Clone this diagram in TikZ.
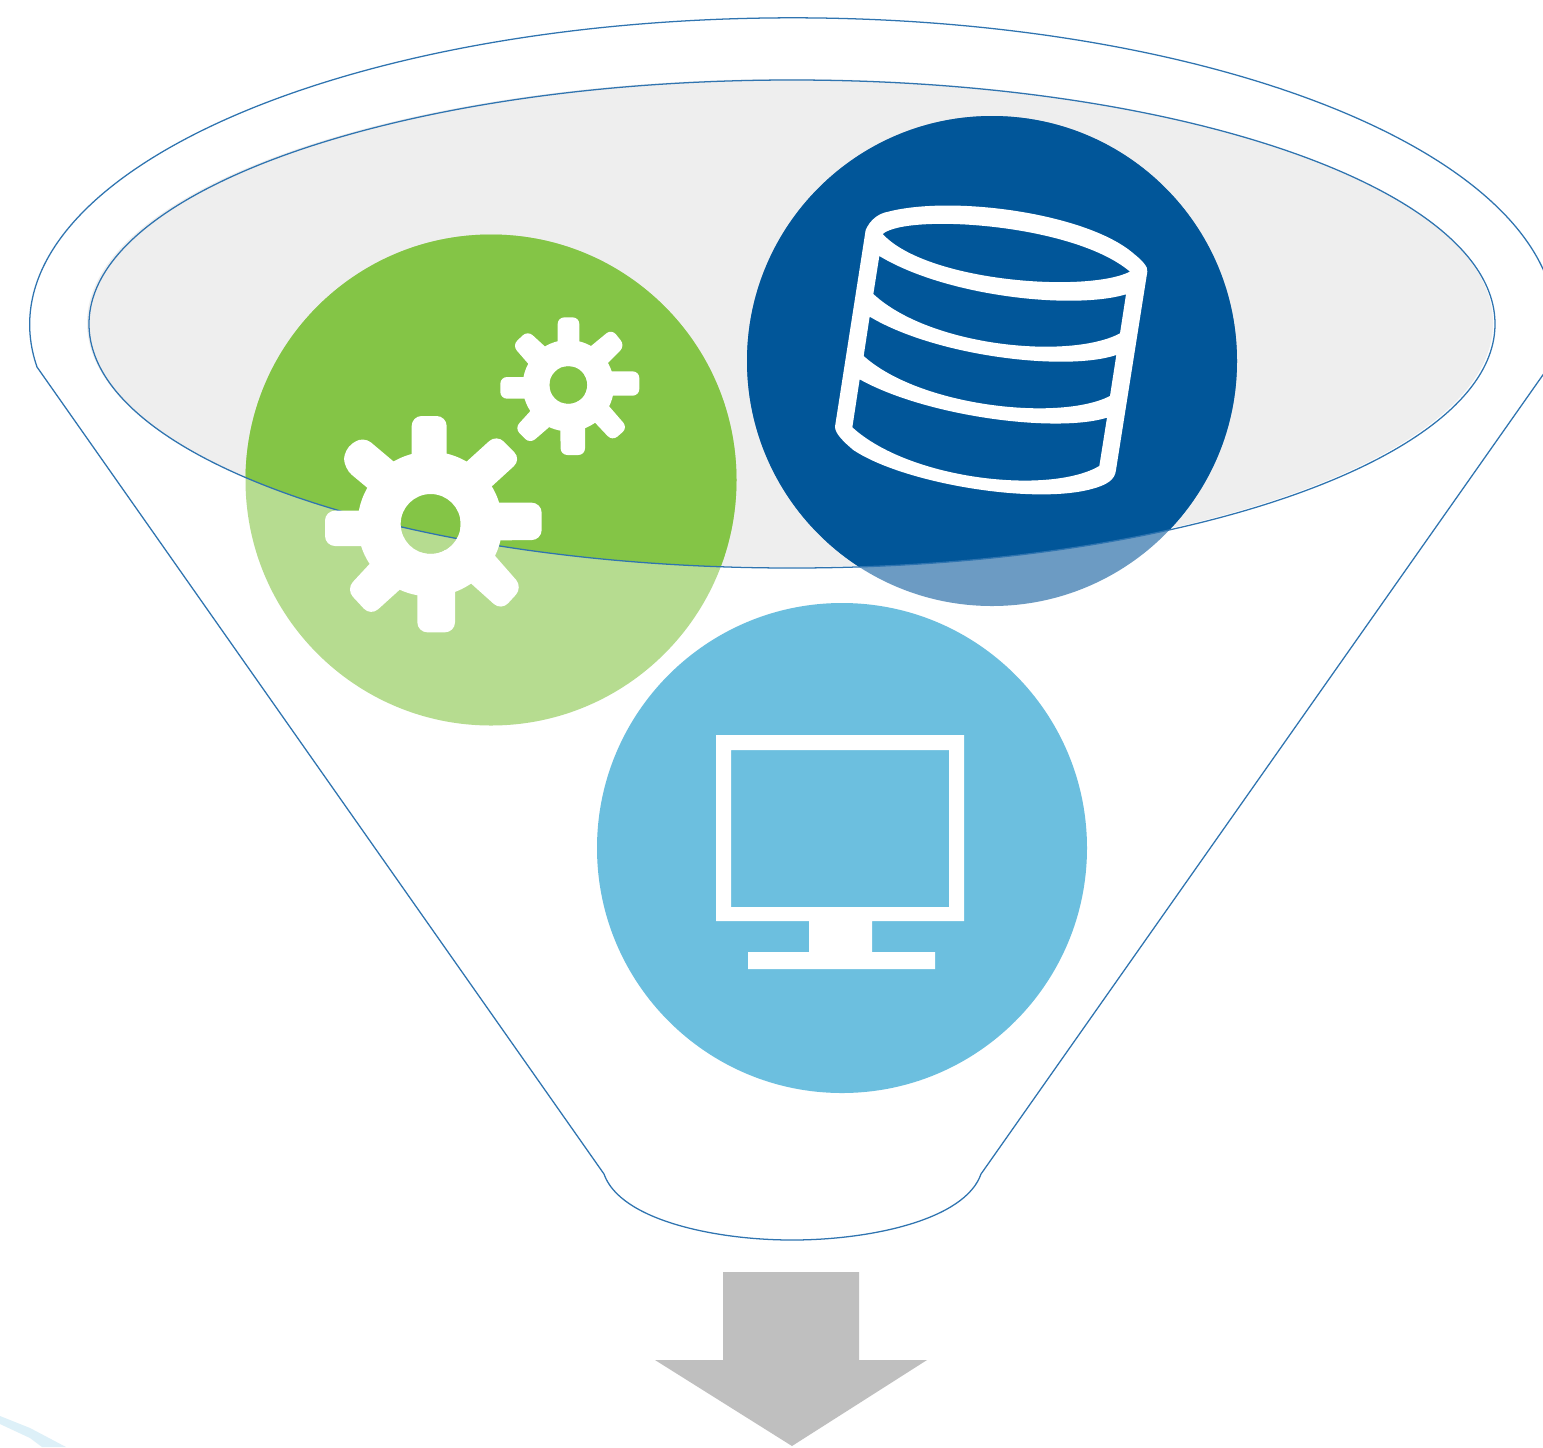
\documentclass[tikz,border=0pt]{standalone}
\definecolor{funnelline}{HTML}{2F74B0}
\definecolor{rimgrey}{HTML}{EEEEEE}
\definecolor{gearfull}{HTML}{84C546}
\definecolor{gearpale}{HTML}{B6DC90}
\definecolor{dbfull}{HTML}{015699}
\definecolor{dbpale}{HTML}{6C9BC3}
\definecolor{screencol}{HTML}{6CBFDF}
\definecolor{arrowgrey}{HTML}{BFBFBF}
\definecolor{wisp}{HTML}{DDF0F8}
\tikzset{
  outline/.style={draw=funnelline,line width=0.95pt},
  bigtooth/.style={fill=white,rounded corners=7.5pt},
  smalltooth/.style={fill=white,rounded corners=5pt},
  zoomA/.style={shift={(300,300)},scale=1/3},
  zoomB/.style={shift={(820,190)},scale=1/3},
}
\begin{document}
\begin{tikzpicture}[x=0.75pt,y=-0.75pt]
\useasboundingbox (0,0) rectangle (1543,1447);
\clip (0,0) rectangle (1543,1447);
\fill[white] (0,0) rectangle (1543,1447);
% faint wisp at lower left
\fill[wisp] (0,1416) -- (30,1428) -- (66,1447) -- (42,1447) -- (30,1438) -- (0,1424) -- cycle;
% funnel body
\draw[outline] (37,367) arc[start angle=172.1,end angle=367.9,x radius=763,y radius=307]
  -- (981,1174) .. controls (965,1220) and (870,1240) .. (792,1240)
  .. controls (715,1240) and (620,1220) .. (604,1174) -- cycle;
% rim
\fill[rimgrey] (790,323) ellipse[x radius=703,y radius=244];
% pale circle parts
\fill[gearpale] (491,480) circle[radius=245.5];
\fill[dbpale] (992,361) circle[radius=245];
% full colour inside the rim
\begin{scope}
  \clip (792,324) ellipse[x radius=703,y radius=244];
  \fill[gearfull] (491,480) circle[radius=245.5];
  \fill[dbfull] (992,361) circle[radius=245];
\end{scope}
\draw[outline] (792,324) ellipse[x radius=703,y radius=244];
% third circle
\fill[screencol] (842,848) circle[radius=245];
% gears: everything is painted outside the clipped-out holes
\begin{scope}[zoomA]
\begin{scope}[even odd rule]
  \clip (-900,-900) rectangle (3000,3000) (392,672) circle[radius=90];
  \fill[white] (390,672) circle[radius=217];
  \path[bigtooth] (335,560) -- (335,348) -- (440,348) -- (440,560) -- cycle;
  \path[bigtooth] (428,550) -- (590,403) -- (664,478) -- (500,628) -- cycle;
  \path[bigtooth] (480,608) -- (725,608) -- (725,720) -- (480,722) -- cycle;
  \path[bigtooth] (517,690) -- (668,862) -- (604,932) -- (440,785) -- cycle;
  \path[bigtooth] (465,750) -- (465,997) -- (352,997) -- (352,750) -- cycle;
  \path[bigtooth] (370,805) -- (212,948) -- (138,868) -- (282,713) -- cycle;
  \path[bigtooth] (300,738) -- (75,738) -- (75,632) -- (300,632) -- cycle;
  \path[bigtooth] (270,620) -- (132,505) -- (132,448) -- (190,408) -- (355,547) -- cycle;
\end{scope}
\begin{scope}[even odd rule]
  \clip (-900,-900) rectangle (3000,3000) (805,255) circle[radius=57];
  \fill[white] (805,257) circle[radius=137];
  \path[smalltooth] (773,200) -- (773,52) -- (838,52) -- (838,200) -- cycle;
  \path[smalltooth] (822,180) -- (935,87) -- (975,137) -- (870,244) -- cycle;
  \path[smalltooth] (850,214) -- (1018,214) -- (1018,287) -- (850,287) -- cycle;
  \path[smalltooth] (885,270) -- (983,383) -- (937,423) -- (840,320) -- cycle;
  \path[smalltooth] (855,300) -- (855,465) -- (782,465) -- (780,300) -- cycle;
  \path[smalltooth] (792,343) -- (690,431) -- (644,385) -- (742,277) -- cycle;
  \path[smalltooth] (750,296) -- (601,296) -- (601,231) -- (750,231) -- cycle;
  \path[smalltooth] (732,246) -- (637,136) -- (683,92) -- (790,190) -- cycle;
\end{scope}
\end{scope}
% database cylinder
\begin{scope}[zoomB]
\fill[white,even odd rule]
  (137,120) .. controls (150,90) and (175,70) .. (205,65)
  .. controls (400,15) and (800,70) .. (940,190)
  .. controls (965,210) and (985,230) .. (982,245)
  -- (888,840) .. controls (885,870) and (860,885) .. (815,897)
  .. controls (640,945) and (250,880) .. (100,780)
  .. controls (70,755) and (45,730) .. (45,710) -- cycle
  (188,132) .. controls (260,70) and (760,100) .. (930,245)
  .. controls (800,310) and (320,275) .. (188,132) -- cycle
  (178,198) -- (160,312) .. controls (330,470) and (750,510) .. (900,430)
  -- (918,313) .. controls (760,360) and (380,320) .. (178,198) -- cycle
  (149,380) -- (131,498) .. controls (300,650) and (720,695) .. (870,618)
  -- (889,495) .. controls (740,545) and (350,500) .. (149,380) -- cycle
  (119,568) -- (97,712) .. controls (270,870) and (690,915) .. (838,828)
  -- (861,683) .. controls (710,730) and (320,680) .. (119,568) -- cycle;
\end{scope}
% monitor
\fill[white,even odd rule]
  (716,735) -- (964,735) -- (964,921) -- (872,921) -- (872,952) -- (935,952) -- (935,969)
  -- (748,969) -- (748,952) -- (809,952) -- (809,921) -- (716,921) -- cycle
  (731,750) rectangle (949,907);
% output arrow
\fill[arrowgrey] (723,1272) -- (859,1272) -- (859,1360) -- (927,1360) -- (792,1446) -- (655,1360) -- (723,1360) -- cycle;
\end{tikzpicture}
\end{document}
